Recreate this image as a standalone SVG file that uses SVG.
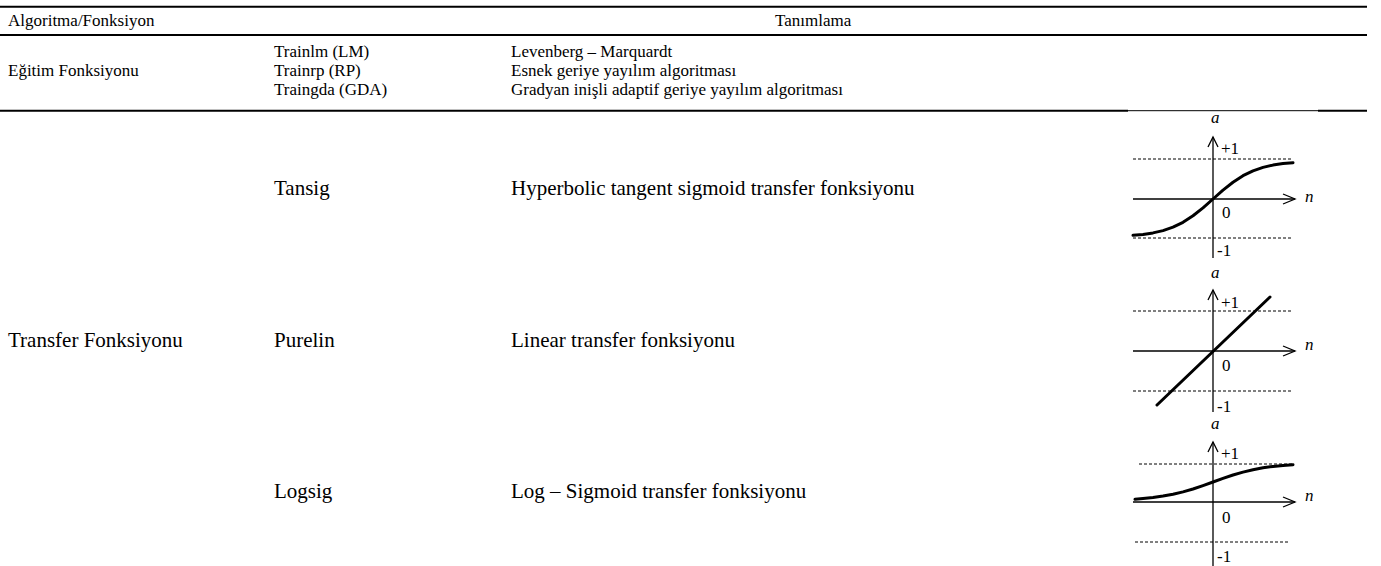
<svg xmlns="http://www.w3.org/2000/svg" width="1381" height="566" viewBox="0 0 1381 566">
<style>
text{font-family:"Liberation Serif","Times New Roman",serif;fill:#000}
.t{font-size:17px}
.u{font-size:21px}
.l{font-size:17px}
.i{font-size:17px;font-style:italic}
.rule{stroke:#000;stroke-width:2}
.thin{stroke:#000;stroke-width:1}
.ax{stroke:#000;stroke-width:1.3;fill:none}
.dot{stroke:#000;stroke-width:1;stroke-dasharray:3 2;fill:none}
.cv{stroke:#000;stroke-width:3;fill:none;stroke-linejoin:round;stroke-linecap:round}
</style>
<rect width="1381" height="566" fill="#fff"/>
<g id="rules">
<line class="rule" x1="0" y1="6.7" x2="1367" y2="6.7"/>
<line class="rule" x1="0" y1="35" x2="1367" y2="35"/>
<line class="rule" x1="0" y1="110.7" x2="1128" y2="110.7"/>
<line class="thin" x1="1128" y1="110.7" x2="1318" y2="110.7"/>
<line class="rule" x1="1318" y1="110.7" x2="1367" y2="110.7"/>
</g>
<g id="header">
<text class="t" x="8" y="26">Algoritma/Fonksiyon</text>
<text class="t" x="775" y="26">Tanımlama</text>
</g>
<g id="egitim">
<text class="t" x="8" y="76">Eğitim Fonksiyonu</text>
<text class="t" x="274" y="56.5">Trainlm (LM)</text>
<text class="t" x="274" y="75.5">Trainrp (RP)</text>
<text class="t" x="274" y="94.5">Traingda (GDA)</text>
<text class="t" x="511" y="56.5">Levenberg – Marquardt</text>
<text class="t" x="511" y="75.5">Esnek geriye yayılım algoritması</text>
<text class="t" x="511" y="94.5">Gradyan inişli adaptif geriye yayılım algoritması</text>
</g>
<g id="transfer">
<text class="u" x="8" y="347">Transfer Fonksiyonu</text>
</g>
<g id="tansig">
<text class="u" x="274" y="195">Tansig</text>
<text class="u" x="511" y="195">Hyperbolic tangent sigmoid transfer fonksiyonu</text>
<g transform="translate(1213,199)">
<line class="dot" x1="-80" y1="-40" x2="80" y2="-40"/>
<line class="dot" x1="-80" y1="39" x2="80" y2="39"/>
<line class="ax" x1="-80" y1="0" x2="82" y2="0"/>
<polyline class="ax" points="70,-5 82,0 70,5"/>
<line class="ax" x1="0" y1="-62" x2="0" y2="59"/>
<polyline class="ax" points="-5,-52 0,-62 5,-52"/>
<polyline class="cv" points="-80,36.3 -70,35.4 -60,33.9 -50,31.6 -40,28.2 -30,23.3 -20,16.8 -10,8.9 0,0 10,-8.9 20,-16.8 30,-23.3 40,-28.2 50,-31.6 60,-33.9 70,-35.4 80,-36.3"/>
<text class="i" x="-2" y="-76">a</text>
<text class="l" x="8" y="-45">+1</text>
<text class="l" x="9" y="19">0</text>
<text class="l" x="4" y="57">-1</text>
<text class="i" x="92" y="3">n</text>
</g>
</g>
<g id="purelin">
<text class="u" x="274" y="347">Purelin</text>
<text class="u" x="511" y="347">Linear transfer fonksiyonu</text>
<g transform="translate(1213,351)">
<line class="dot" x1="-80" y1="-40" x2="80" y2="-40"/>
<line class="dot" x1="-80" y1="40" x2="80" y2="40"/>
<line class="ax" x1="-80" y1="0" x2="82" y2="0"/>
<polyline class="ax" points="70,-5 82,0 70,5"/>
<line class="ax" x1="0" y1="-61" x2="0" y2="61"/>
<polyline class="ax" points="-5,-51 0,-61 5,-51"/>
<line class="cv" x1="-56" y1="54" x2="57" y2="-54"/>
<text class="i" x="-2" y="-73">a</text>
<text class="l" x="8" y="-43.5">+1</text>
<text class="l" x="9" y="20">0</text>
<text class="l" x="4" y="61">-1</text>
<text class="i" x="92" y="-1">n</text>
</g>
</g>
<g id="logsig">
<text class="u" x="274" y="498">Logsig</text>
<text class="u" x="511" y="498">Log – Sigmoid transfer fonksiyonu</text>
<g transform="translate(1213,502)">
<line class="dot" x1="-74" y1="-38" x2="80" y2="-38"/>
<line class="dot" x1="-78" y1="40" x2="77" y2="40"/>
<line class="ax" x1="-80" y1="0" x2="82" y2="0"/>
<polyline class="ax" points="70,-5 82,0 70,5"/>
<line class="ax" x1="0" y1="-60" x2="0" y2="66"/>
<polyline class="ax" points="-5,-50 0,-60 5,-50"/>
<polyline class="cv" points="-78,-2.7 -70,-3.4 -60,-4.4 -50,-5.9 -40,-7.7 -30,-10.1 -20,-13 -10,-16.4 0,-20 10,-23.6 20,-27 30,-29.9 40,-32.3 50,-34.2 60,-35.6 70,-36.6 80,-37.3"/>
<text class="i" x="-2" y="-73">a</text>
<text class="l" x="8" y="-43.5">+1</text>
<text class="l" x="9" y="20.5">0</text>
<text class="l" x="4" y="59.5">-1</text>
<text class="i" x="92" y="-1">n</text>
</g>
</g>
</svg>
